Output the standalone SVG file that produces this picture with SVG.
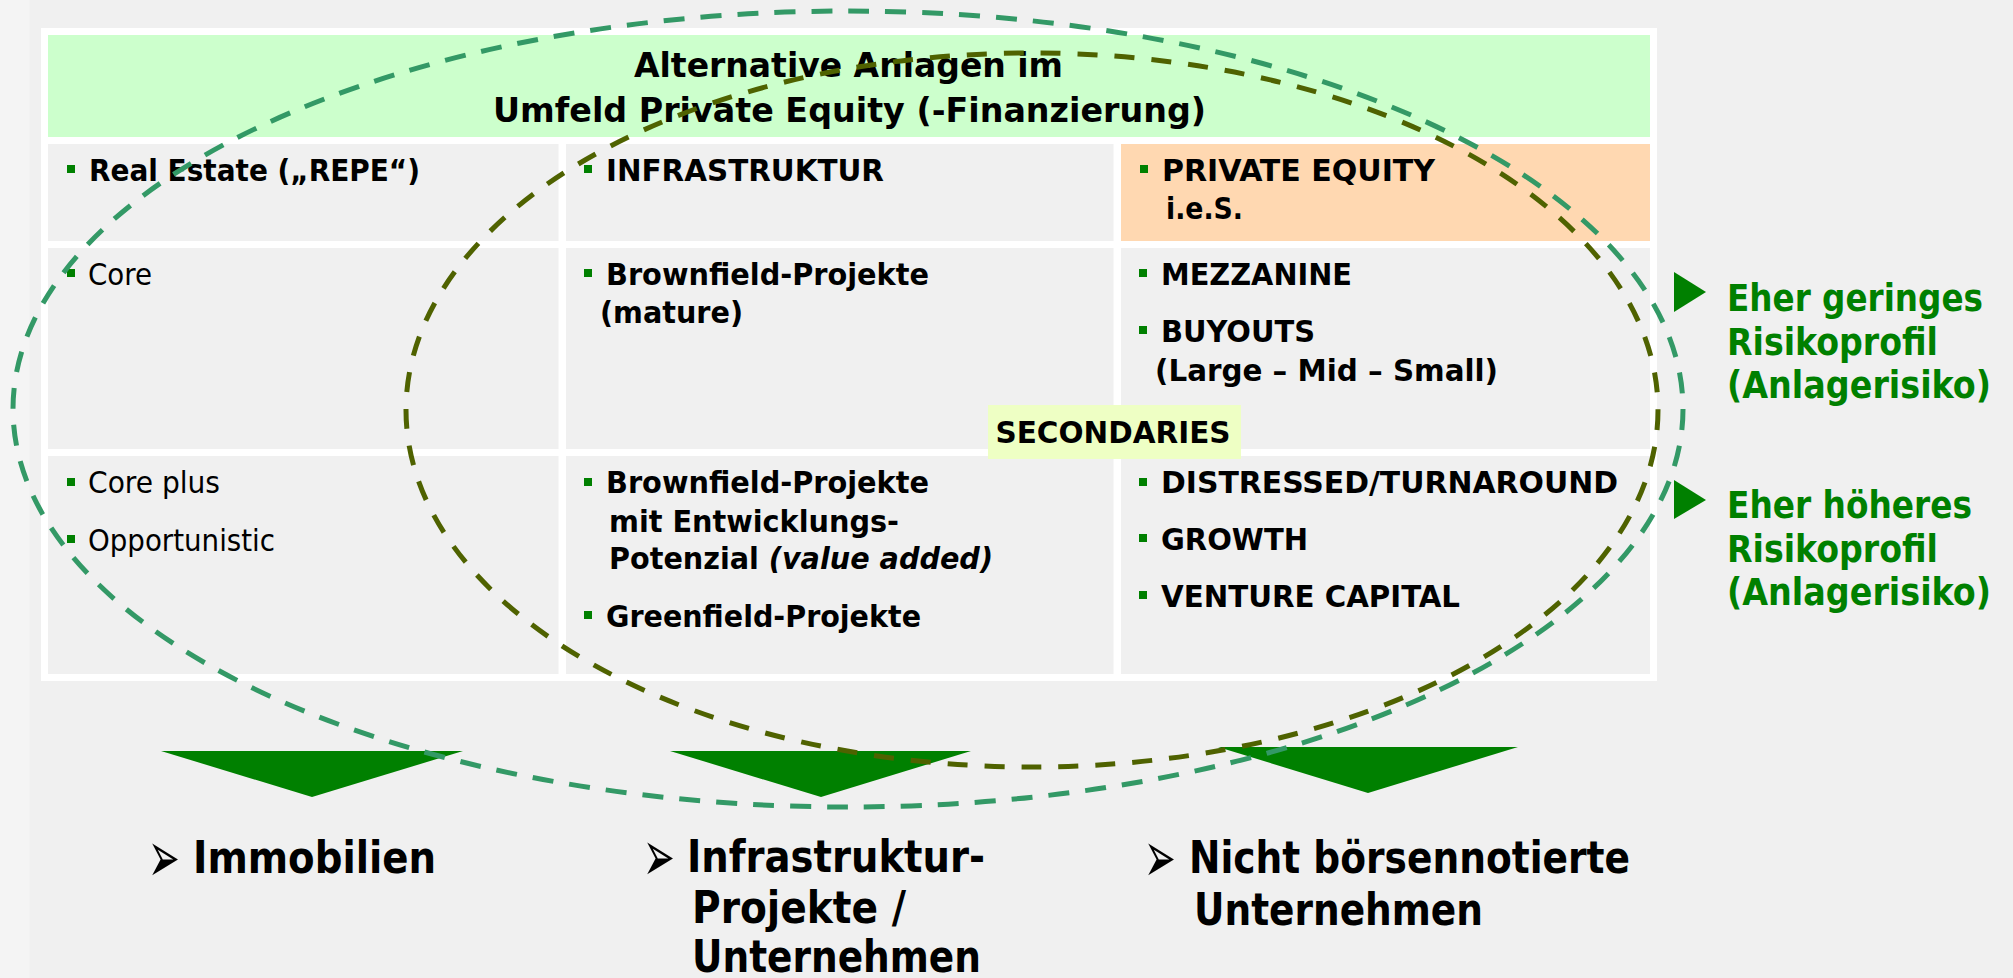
<svg xmlns="http://www.w3.org/2000/svg" width="2013" height="978" viewBox="0 0 2013 978">
<style>
text{font-family:"DejaVu Sans Condensed","DejaVu Sans",sans-serif}
.b{font-weight:bold;font-size:31px;fill:#000}
.r{font-size:31px;fill:#000}
.h{font-weight:bold;font-size:33px;fill:#000}
.g{font-weight:bold;font-size:36.5px;fill:#008000}
.big{font-weight:bold;font-size:45px;fill:#000}
.arr{font-family:"DejaVu Sans",sans-serif;font-size:38px;fill:#000}
.cell{fill:#f0f0f0}
.bul{fill:#008000}
.tri{fill:#008000}
.e1{fill:none;stroke:#339966;stroke-width:5;stroke-dasharray:21 16}
.e2{fill:none;stroke:#4f6200;stroke-width:5;stroke-dasharray:20 17}
</style>
<rect x="0" y="0" width="2013" height="978" fill="#f4f4f4"/>
<rect x="29.5" y="0" width="1984" height="978" fill="#f0f0f0"/>

<g id="table">
<rect x="41" y="28" width="1616" height="653" fill="#ffffff"/>
</g>

<g id="header">
<rect x="48" y="35" width="1602" height="102" fill="#ccffcc"/>
<text class="h" x="634" y="77" textLength="429" lengthAdjust="spacingAndGlyphs">Alternative Anlagen im</text>
<text class="h" x="493" y="122" textLength="713" lengthAdjust="spacingAndGlyphs">Umfeld Private Equity (-Finanzierung)</text>
</g>

<g id="real-estate-head">
<rect class="cell" x="48" y="144" width="510.5" height="97"/>
<rect class="bul" x="67" y="165" width="8" height="8"/>
<text class="b" x="89" y="181" textLength="331" lengthAdjust="spacingAndGlyphs">Real Estate („REPE“)</text>
</g>
<g id="infra-head">
<rect class="cell" x="566" y="144" width="547.5" height="97"/>
<rect class="bul" x="584" y="165" width="8" height="8"/>
<text class="b" x="606" y="181" textLength="278" lengthAdjust="spacingAndGlyphs">INFRASTRUKTUR</text>
</g>
<g id="pe-head">
<rect x="1121" y="144" width="529" height="97" fill="#ffd8b1"/>
<rect class="bul" x="1140" y="165" width="8" height="8"/>
<text class="b" x="1162" y="181" textLength="273" lengthAdjust="spacingAndGlyphs">PRIVATE EQUITY</text>
<text class="b" x="1166" y="219" textLength="77" lengthAdjust="spacingAndGlyphs">i.e.S.</text>
</g>

<g id="re-core">
<rect class="cell" x="48" y="248" width="510.5" height="201"/>
<rect class="bul" x="67" y="269" width="8" height="8"/>
<text class="r" x="88" y="285" textLength="64" lengthAdjust="spacingAndGlyphs">Core</text>
</g>
<g id="infra-mature">
<rect class="cell" x="566" y="248" width="547.5" height="201"/>
<rect class="bul" x="584" y="269" width="8" height="8"/>
<text class="b" x="606" y="285" textLength="323" lengthAdjust="spacingAndGlyphs">Brownfield-Projekte</text>
<text class="b" x="600" y="323" textLength="143" lengthAdjust="spacingAndGlyphs">(mature)</text>
</g>
<g id="pe-mature">
<rect class="cell" x="1121" y="248" width="529" height="201"/>
<rect class="bul" x="1139" y="269" width="8" height="8"/>
<text class="b" x="1161" y="285" textLength="191" lengthAdjust="spacingAndGlyphs">MEZZANINE</text>
<rect class="bul" x="1139" y="326" width="8" height="8"/>
<text class="b" x="1161" y="342" textLength="154" lengthAdjust="spacingAndGlyphs">BUYOUTS</text>
<text class="b" x="1155" y="381" textLength="343" lengthAdjust="spacingAndGlyphs">(Large – Mid – Small)</text>
</g>

<g id="re-opp">
<rect class="cell" x="48" y="456" width="510.5" height="218"/>
<rect class="bul" x="67" y="478" width="8" height="8"/>
<text class="r" x="88" y="493" textLength="132" lengthAdjust="spacingAndGlyphs">Core plus</text>
<rect class="bul" x="67" y="535" width="8" height="8"/>
<text class="r" x="88" y="551" textLength="187" lengthAdjust="spacingAndGlyphs">Opportunistic</text>
</g>
<g id="infra-dev">
<rect class="cell" x="566" y="456" width="547.5" height="218"/>
<rect class="bul" x="584" y="478" width="8" height="8"/>
<text class="b" x="606" y="493" textLength="323" lengthAdjust="spacingAndGlyphs">Brownfield-Projekte</text>
<text class="b" x="609" y="532" textLength="290" lengthAdjust="spacingAndGlyphs">mit Entwicklungs-</text>
<text class="b" x="609" y="569" textLength="384" lengthAdjust="spacingAndGlyphs">Potenzial <tspan font-style="italic">(value added)</tspan></text>
<rect class="bul" x="584" y="611" width="8" height="8"/>
<text class="b" x="606" y="627" textLength="315" lengthAdjust="spacingAndGlyphs">Greenfield-Projekte</text>
</g>
<g id="pe-growth">
<rect class="cell" x="1121" y="456" width="529" height="218"/>
<rect class="bul" x="1139" y="478" width="8" height="8"/>
<text class="b" x="1161" y="493" textLength="457" lengthAdjust="spacingAndGlyphs">DISTRESSED/TURNAROUND</text>
<rect class="bul" x="1139" y="534" width="8" height="8"/>
<text class="b" x="1161" y="550" textLength="147" lengthAdjust="spacingAndGlyphs">GROWTH</text>
<rect class="bul" x="1139" y="591" width="8" height="8"/>
<text class="b" x="1161" y="607" textLength="299" lengthAdjust="spacingAndGlyphs">VENTURE CAPITAL</text>
</g>

<g id="secondaries">
<rect x="988" y="405" width="253" height="54" fill="#eeffc4"/>
<text class="b" x="995.5" y="443" font-size="28.5" textLength="235" lengthAdjust="spacingAndGlyphs">SECONDARIES</text>
</g>

<g id="risk-low">
<polygon class="tri" points="1674,272 1706,292 1674,312"/>
<text class="g" x="1727" y="311" textLength="256" lengthAdjust="spacingAndGlyphs">Eher geringes</text>
<text class="g" x="1727" y="355" textLength="211" lengthAdjust="spacingAndGlyphs">Risikoprofil</text>
<text class="g" x="1727" y="398" textLength="264" lengthAdjust="spacingAndGlyphs">(Anlagerisiko)</text>
</g>
<g id="risk-high">
<polygon class="tri" points="1674,480 1706,500 1674,519"/>
<text class="g" x="1727" y="518" textLength="245" lengthAdjust="spacingAndGlyphs">Eher höheres</text>
<text class="g" x="1727" y="562" textLength="211" lengthAdjust="spacingAndGlyphs">Risikoprofil</text>
<text class="g" x="1727" y="605" textLength="264" lengthAdjust="spacingAndGlyphs">(Anlagerisiko)</text>
</g>

<g id="out-immobilien">
<polygon class="tri" points="161,751 463,751 312,797"/>
<text class="arr" transform="translate(148,857) scale(1,1.9)" x="0" y="13">➢</text>
<text class="big" x="193" y="873" textLength="243" lengthAdjust="spacingAndGlyphs">Immobilien</text>
</g>
<g id="out-infra">
<polygon class="tri" points="670,751 971,751 821,797"/>
<text class="arr" transform="translate(643,856) scale(1,1.9)" x="0" y="13">➢</text>
<text class="big" x="687" y="872" textLength="298" lengthAdjust="spacingAndGlyphs">Infrastruktur-</text>
<text class="big" x="692" y="923" textLength="214" lengthAdjust="spacingAndGlyphs">Projekte /</text>
<text class="big" x="692" y="972" textLength="289" lengthAdjust="spacingAndGlyphs">Unternehmen</text>
</g>
<g id="out-pe">
<polygon class="tri" points="1218,747 1518,747 1368,793"/>
<text class="arr" transform="translate(1144,857) scale(1,1.9)" x="0" y="13">➢</text>
<text class="big" x="1189" y="873" textLength="441" lengthAdjust="spacingAndGlyphs">Nicht börsennotierte</text>
<text class="big" x="1194" y="925" textLength="289" lengthAdjust="spacingAndGlyphs">Unternehmen</text>
</g>

<g id="connectors">
<ellipse class="e1" cx="848" cy="409" rx="835" ry="398"/>
<ellipse class="e2" cx="1032" cy="410" rx="626" ry="357"/>
</g>
</svg>
